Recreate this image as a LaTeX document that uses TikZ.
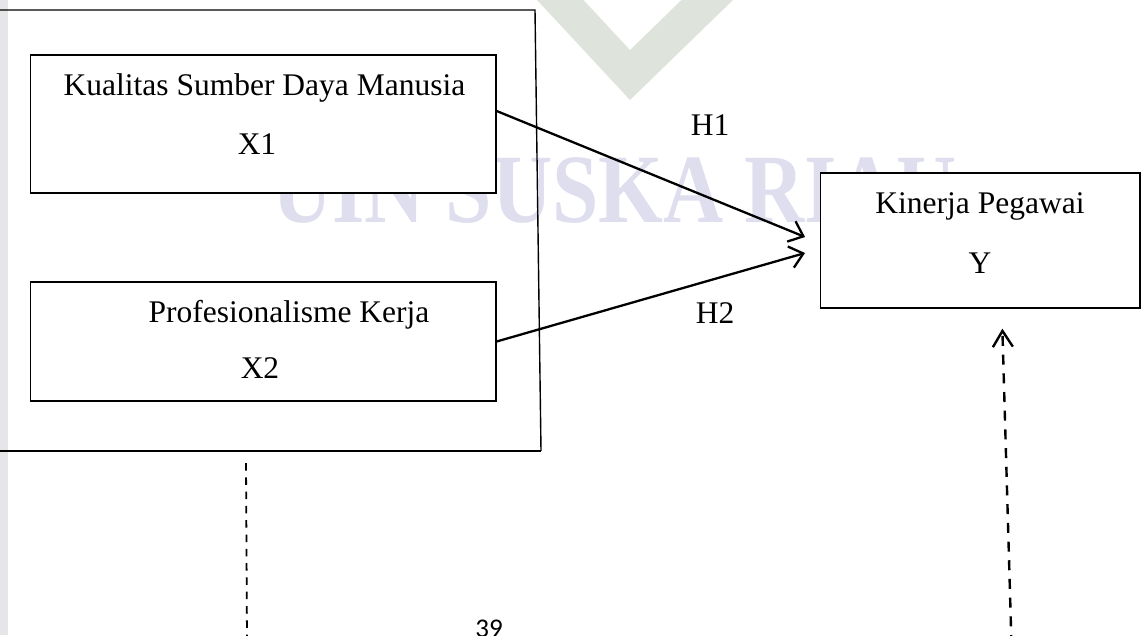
\documentclass[tikz,border=0pt]{standalone}
\usepackage{fontspec}
\setmainfont{Liberation Serif}
\newfontfamily\pagefont{Carlito}
\usetikzlibrary{arrows.meta}
\definecolor{wmtext}{RGB}{222,222,238}
\definecolor{wmchev}{RGB}{222,227,219}
\definecolor{stripgray}{RGB}{230,230,232}
\tikzset{
  boxnode/.style={draw=black, line width=1.3pt, fill=white, inner sep=0pt, rectangle},
  lbl/.style={font=\fontsize{31.5}{36}\selectfont, anchor=base, inner sep=0pt},
  relarrow/.style={line width=2.3pt, -{Straight Barb[length=13pt,width=22pt,line width=2.3pt]}},
  outline/.style={line width=1.4pt},
  outlinebold/.style={line width=2.6pt},
  dashleft/.style={line width=1.8pt, dash pattern=on 7.5pt off 6.8pt},
  dashright/.style={line width=2.4pt, dash pattern=on 10pt off 8.7pt, -{Straight Barb[length=16pt,width=20pt,line width=2.4pt]}}
}
\begin{document}
\begin{tikzpicture}[x=1pt,y=-1pt]
\useasboundingbox (0,0) rectangle (1146,635);
% background watermark
\fill[stripgray] (0,0) rectangle (8,635);
\fill[wmchev] (537,0) -- (630,100) -- (733,0) -- (681.5,0) -- (630,50) -- (583.5,0) -- cycle;
\node[font=\bfseries\fontsize{98}{104}\selectfont, xscale=0.85, text=wmtext, anchor=base west, inner sep=0pt] (wm) at (272,222) {UIN SUSKA RIAU};
% outer frame
\coordinate (otl) at (0,10);
\coordinate (otr) at (535,10);
\coordinate (obr) at (541,451);
\coordinate (obl) at (0,451);
\draw[outline] (otl) -- (otr) -- (obr);
\draw[outlinebold] (obl) -- (obr);
% boxes
\node[boxnode, minimum width=465.3pt, minimum height=138pt] (b1) at (263.35,124) {};
\node[boxnode, minimum width=465.3pt, minimum height=119pt] (b2) at (263.35,341.5) {};
\node[boxnode, minimum width=319.3pt, minimum height=135pt] (yb) at (980.35,240.5) {};
% texts
\node[lbl] (t1) at (264.5,95.7) {Kualitas Sumber Daya Manusia};
\node[lbl] (t1x) at (257,154) {X1};
\node[lbl] (t2) at (289,322) {Profesionalisme Kerja};
\node[lbl] (t2x) at (260,378) {X2};
\node[lbl] (ty) at (980,213) {Kinerja Pegawai};
\node[lbl] (tyy) at (980,273) {Y};
\node[lbl] (h1) at (710,135) {H1};
\node[lbl] (h2) at (715,323) {H2};
% arrows
\draw[relarrow] ([yshift=13pt]b1.east) -- ([xshift=-15pt,yshift=3.5pt]yb.west);
\draw[relarrow] (b2.east) -- ([xshift=-15pt,yshift=-12.5pt]yb.west);
% dashed lines
\coordinate (dl1) at (246,463);
\coordinate (dl2) at (247,640);
\draw[dashleft] (dl1) -- (dl2);
\coordinate (dr) at (1011.5,645);
\draw[dashright] (dr) -- ([xshift=22pt,yshift=-20pt]yb.south);
% page number
\node[font=\pagefont\fontsize{27}{30}\selectfont, anchor=base, inner sep=0pt] (pg) at (489,637) {39};
\end{tikzpicture}
\end{document}
